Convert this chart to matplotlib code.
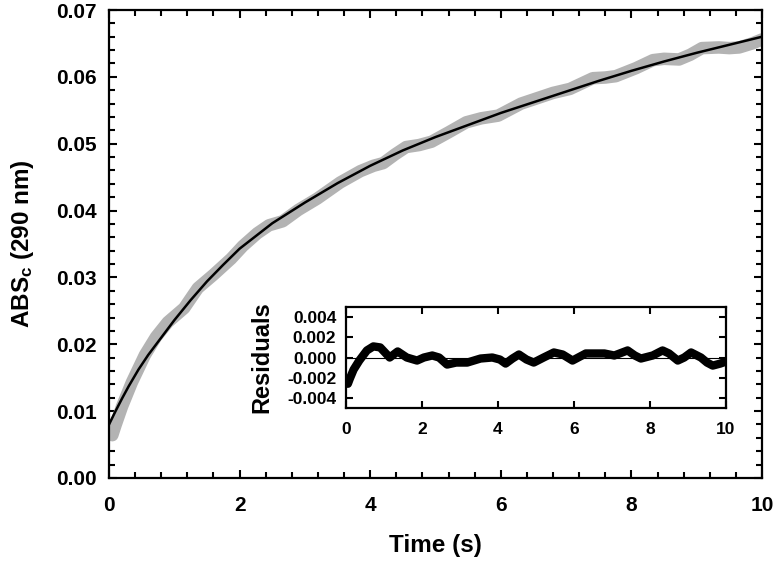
import matplotlib
matplotlib.use('Agg')
import matplotlib.pyplot as plt
from matplotlib.ticker import MultipleLocator

plt.rcParams['font.family'] = ['Liberation Sans', 'DejaVu Sans']
plt.rcParams['font.weight'] = 'bold'
plt.rcParams['mathtext.fontset'] = 'custom'
plt.rcParams['mathtext.rm'] = 'Liberation Sans:bold'
plt.rcParams['mathtext.it'] = 'Liberation Sans:bold'
plt.rcParams['mathtext.bf'] = 'Liberation Sans:bold'

# fitted curve (black line)
fit_t = [0.0, 0.1, 0.2, 0.3, 0.45, 0.6, 0.8, 1.0, 1.25, 1.5, 1.75, 2.0, 2.5, 3.0,
         3.5, 4.0, 4.5, 5.0, 5.5, 6.0, 6.5, 7.0, 7.5, 8.0, 8.5, 9.0, 9.5, 10.0]
fit_abs = [0.0080, 0.0100, 0.0119, 0.0137, 0.0162, 0.0184, 0.0210, 0.0236, 0.0266,
           0.0294, 0.0319, 0.0343, 0.0381, 0.0412, 0.0441, 0.0467, 0.0490, 0.0510,
           0.0528, 0.0546, 0.0562, 0.0578, 0.0594, 0.0609, 0.0623, 0.0636, 0.0648, 0.0660]

# measured trace (grey band) and residuals
t = [0.05, 0.10, 0.20, 0.35, 0.55, 0.72, 0.90, 1.15, 1.36, 1.60, 1.87, 2.05, 2.27,
     2.45, 2.66, 2.90, 3.19, 3.54, 3.85, 4.05, 4.20, 4.38, 4.55, 4.75, 4.94, 5.20,
     5.47, 5.70, 5.96, 6.31, 6.80, 7.06, 7.41, 7.60, 7.76, 8.07, 8.33, 8.50, 8.73,
     8.90, 9.08, 9.34, 9.50, 9.65, 9.85, 10.0]
abs_data = [0.0064, 0.0079, 0.0107, 0.0143, 0.0184, 0.0211, 0.0233, 0.0254, 0.0284,
            0.0304, 0.0328, 0.0347, 0.0366, 0.0378, 0.0384, 0.0401, 0.0418, 0.0442,
            0.0459, 0.0467, 0.0471, 0.0484, 0.0495, 0.0498, 0.0503, 0.0517, 0.0532,
            0.0538, 0.0542, 0.0560, 0.0576, 0.0582, 0.0598, 0.0599, 0.0601, 0.0613,
            0.0625, 0.0627, 0.0626, 0.0633, 0.0643, 0.0644, 0.0643, 0.0644, 0.0650, 0.0656]
resid = [-0.0026, -0.0021, -0.0012, -0.0003, 0.0007, 0.0011, 0.0010, 0.0000, 0.0006,
         0.0000, -0.0003, 0.0000, 0.0002, 0.0000, -0.0007, -0.0005, -0.0005, -0.0001,
         0.0000, -0.0002, -0.0006, -0.0001, 0.0003, -0.0002, -0.0005, 0.0000, 0.0005,
         0.0003, -0.0003, 0.0004, 0.0004, 0.0002, 0.0007, 0.0002, -0.0001, 0.0002,
         0.0007, 0.0004, -0.0003, 0.0000, 0.0005, 0.0000, -0.0005, -0.0008, -0.0006, -0.0004]

fig = plt.figure(figsize=(7.77, 5.62), dpi=100)
ax = fig.add_axes([0.1403, 0.1495, 0.8404, 0.8327])
ax.plot(t, abs_data, color='#b3b3b3', lw=9, solid_capstyle='round', solid_joinstyle='round')
ax.plot(fit_t, fit_abs, color='black', lw=1.8)
ax.set_xlim(0, 10)
ax.set_ylim(0, 0.07)
ax.xaxis.set_major_locator(MultipleLocator(2))
ax.xaxis.set_minor_locator(MultipleLocator(0.4))
ax.yaxis.set_major_locator(MultipleLocator(0.01))
ax.yaxis.set_minor_locator(MultipleLocator(0.002))
ax.yaxis.set_major_formatter(plt.FormatStrFormatter('%.2f'))
ax.tick_params(which='both', direction='in', top=True, right=True, width=1.5, labelsize=15)
ax.tick_params(which='major', length=6)
ax.tick_params(which='minor', length=4)
ax.tick_params(axis='x', pad=13)
ax.tick_params(axis='y', pad=9)
for s in ax.spines.values():
    s.set_linewidth(1.6)
ax.set_xlabel('Time (s)', fontsize=17.5, fontweight='bold', labelpad=14)
ax.set_ylabel(r'ABS$_{\mathrm{c}}$ (290 nm)', fontsize=17.5, fontweight='bold', labelpad=14)

# inset with residuals
ins = fig.add_axes([0.4453, 0.274, 0.4891, 0.1797])
ins.axhline(0, color='black', lw=0.8)
ins.plot(t, resid, color='black', lw=6, solid_capstyle='round', solid_joinstyle='round')
ins.set_xlim(0, 10)
ins.set_ylim(-0.005, 0.005)
ins.xaxis.set_major_locator(MultipleLocator(2))
ins.set_yticks([-0.004, -0.002, 0.0, 0.002, 0.004])
ins.yaxis.set_major_formatter(plt.FormatStrFormatter('%.3f'))
ins.tick_params(direction='in', top=True, right=True, length=5, width=1.5, labelsize=12.5)
ins.tick_params(axis='x', pad=10)
ins.tick_params(axis='y', pad=7)
for s in ins.spines.values():
    s.set_linewidth(1.6)
ins.set_ylabel('Residuals', fontsize=17, fontweight='bold', labelpad=10)

fig.savefig('out.png', dpi=100)
